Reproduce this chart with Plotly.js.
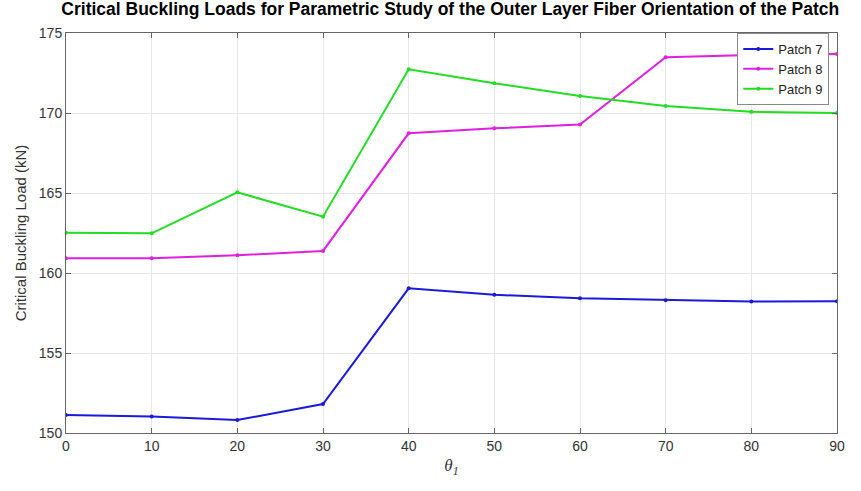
<!DOCTYPE html>
<html>
<head>
<meta charset="utf-8">
<script src="https://cdn.plot.ly/plotly-3.0.1.min.js"></script>
<style>html,body{margin:0;padding:0;background:#fff;}#chart{width:861px;height:491px;}</style>
</head>
<body>
<div id="chart"></div>
<script>
const theta = [0, 10, 20, 30, 40, 50, 60, 70, 80, 90];
const patch7 = [151.12, 151.03, 150.81, 151.81, 159.04, 158.64, 158.42, 158.30, 158.22, 158.24];
const patch8 = [160.92, 160.92, 161.11, 161.38, 168.73, 169.04, 169.28, 173.48, 173.62, 173.68];
const patch9 = [162.52, 162.48, 165.04, 163.52, 172.73, 171.86, 171.06, 170.44, 170.08, 170.00];
const seriesNames = ['Patch 7', 'Patch 8', 'Patch 9'];
const seriesColors = ['#1a1adb', '#e020e0', '#22dd22'];
const xTicks = [0, 10, 20, 30, 40, 50, 60, 70, 80, 90];
const yTicks = [150, 155, 160, 165, 170, 175];

const data = [patch7, patch8, patch9].map((ys, i) => ({
  x: theta, y: ys, type: 'scatter', mode: 'lines+markers',
  name: seriesNames[i],
  line: {color: seriesColors[i], width: 2},
  marker: {color: seriesColors[i], size: 4}
}));

const axisCommon = {
  showline: true, mirror: 'ticks', linecolor: '#666', linewidth: 1,
  ticks: 'inside', ticklen: 5, tickcolor: '#666',
  showgrid: true, gridcolor: '#e6e6e6', gridwidth: 1,
  zeroline: false,
  tickfont: {family: 'Liberation Sans, Arial, sans-serif', size: 14, color: '#333'}
};

const layout = {
  width: 861, height: 491,
  margin: {l: 66, r: 24, t: 33, b: 58},
  paper_bgcolor: '#fff', plot_bgcolor: '#fff',
  title: {
    text: '<b>Critical Buckling Loads for Parametric Study of the Outer Layer Fiber Orientation of the Patch</b>',
    font: {family: 'Liberation Sans, Arial, sans-serif', size: 17.5, color: '#000'},
    x: 0.523, xanchor: 'center', y: 0.995, yanchor: 'top'
  },
  xaxis: Object.assign({}, axisCommon, {
    range: [0, 90], tickvals: xTicks,
    title: {text: '<i>θ</i><sub><i>1</i></sub>', font: {family: 'Liberation Serif, Times New Roman, serif', size: 17, color: '#333'}, standoff: 6}
  }),
  yaxis: Object.assign({}, axisCommon, {
    range: [150, 175], tickvals: yTicks,
    title: {text: 'Critical Buckling Load (kN)', font: {family: 'Liberation Sans, Arial, sans-serif', size: 15, color: '#333'}, standoff: 8}
  }),
  legend: {
    x: 0.99, xanchor: 'right', y: 1.0, yanchor: 'top',
    bgcolor: '#fff', bordercolor: '#888', borderwidth: 1,
    font: {family: 'Liberation Sans, Arial, sans-serif', size: 13, color: '#222'},
    tracegroupgap: 0, itemwidth: 30
  },
  showlegend: true
};

Plotly.newPlot('chart', data, layout, {displayModeBar: false, staticPlot: true});
</script>
</body>
</html>
